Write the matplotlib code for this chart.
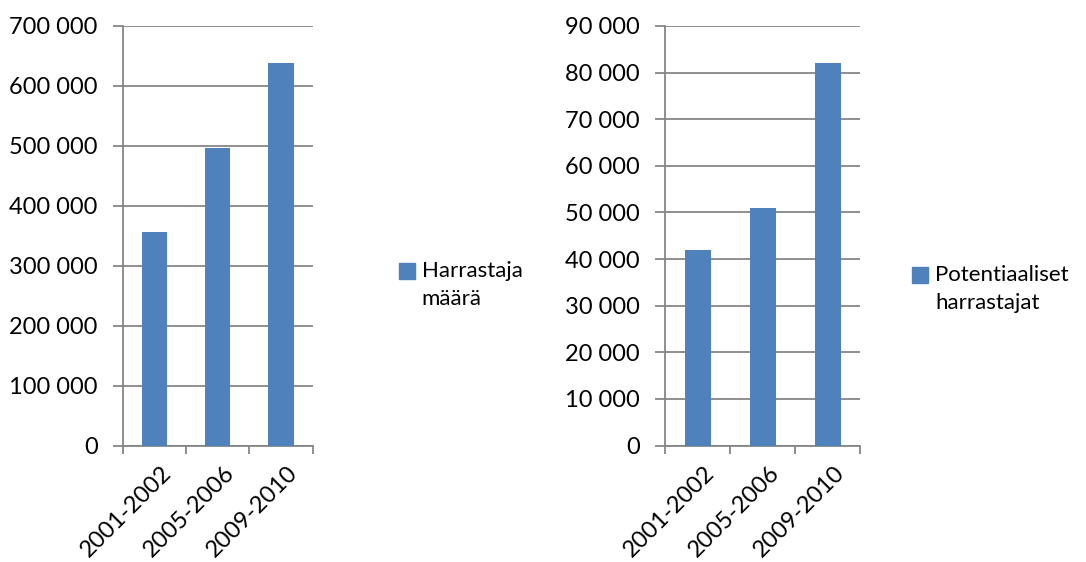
import matplotlib
matplotlib.use("Agg")
import matplotlib.pyplot as plt
from matplotlib.patches import Rectangle
from matplotlib.ticker import FuncFormatter, MultipleLocator

# Data
periods = ["2001-2002", "2005-2006", "2009-2010"]
harrastaja_maara = [356000, 496000, 638000]
potentiaaliset = [42000, 51000, 82000]
left_label = "Harrastaja\nmäärä"
right_label = "Potentiaaliset\nharrastajat"

BAR_COLOR = "#4F81BD"
AXIS_COLOR = "#868686"
FONT = ["Lato", "DejaVu Sans"]

plt.rcParams["font.family"] = FONT

fig = plt.figure(figsize=(10.86, 5.62), dpi=100)


def thousands(v, _pos):
    return f"{int(round(v)):,}".replace(",", " ")


def draw_panel(rect, values, ymax, step, legend_text, leg_sq_x, leg_top_y, leg_text_x):
    ax = fig.add_axes(rect)
    x = range(len(periods))
    ax.bar(x, values, width=0.4, color=BAR_COLOR, zorder=3)
    ax.set_xlim(-0.5, len(periods) - 0.5)
    ax.set_ylim(0, ymax)
    ax.yaxis.set_major_locator(MultipleLocator(step))
    ax.yaxis.set_major_formatter(FuncFormatter(thousands))
    ax.grid(axis="y", color=AXIS_COLOR, linewidth=1.3, zorder=0)
    for side in ("top", "right"):
        ax.spines[side].set_visible(False)
    for side in ("left", "bottom"):
        ax.spines[side].set_color(AXIS_COLOR)
        ax.spines[side].set_linewidth(1.3)
    ax.tick_params(axis="y", length=7, width=1.3, color=AXIS_COLOR,
                   labelsize=17, pad=11)
    # category boundary ticks on the x axis
    ax.set_xticks([-0.5, 0.5, 1.5, 2.5])
    ax.set_xticklabels([])
    ax.tick_params(axis="x", length=6, width=1.3, color=AXIS_COLOR)
    for i, p in enumerate(periods):
        ax.annotate(p, xy=(i, 0), xycoords=("data", "axes fraction"),
                    xytext=(6, -17), textcoords="offset pixels",
                    rotation=45, ha="right", va="top",
                    rotation_mode="anchor", fontsize=17)
    # legend
    W, H = fig.get_size_inches() * fig.dpi
    sq = 15.5
    fig.patches.append(Rectangle((leg_sq_x / W, 1 - (leg_top_y + sq) / H),
                                 sq / W, sq / H, transform=fig.transFigure,
                                 color=BAR_COLOR))
    fig.text(leg_text_x / W, 1 - (leg_top_y - 2) / H, legend_text,
             ha="left", va="top", fontsize=16, linespacing=1.5)
    return ax


W, H = 1086, 562
draw_panel([122.7 / W, 1 - 445.5 / H, 190 / W, 419.5 / H],
           harrastaja_maara, 700000, 100000, left_label, 399.3, 263.3, 421.7)
draw_panel([665 / W, 1 - 445.5 / H, 195 / W, 419.5 / H],
           potentiaaliset, 90000, 10000, right_label, 912.3, 267.0, 935.0)

fig.savefig("out.png", dpi=100)
